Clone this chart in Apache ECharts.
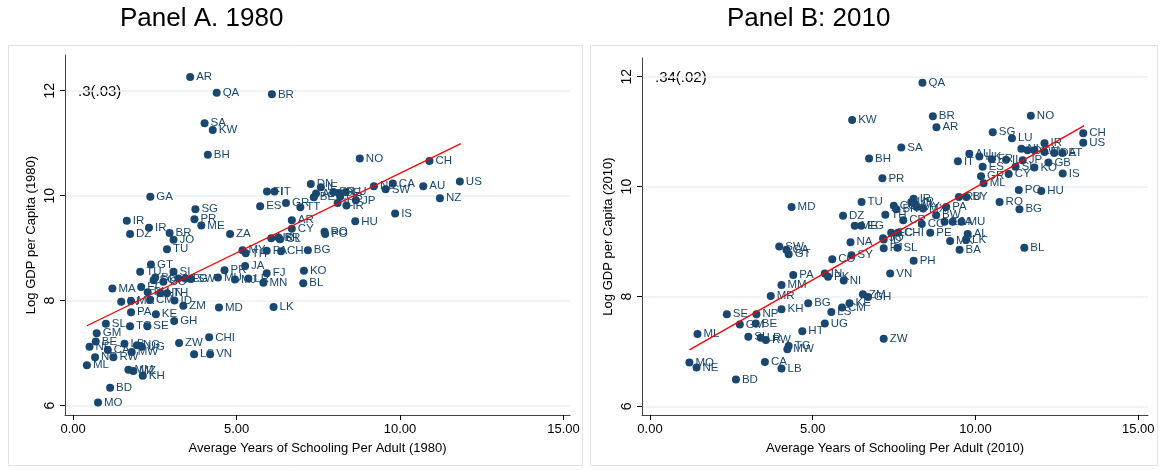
<!DOCTYPE html>
<html><head><meta charset="utf-8">
<script src="https://cdn.jsdelivr.net/npm/echarts@6/dist/echarts.min.js"></script>
<style>html,body{margin:0;padding:0;background:#fff}#c{width:1160px;height:470px}</style>
</head><body><div id="c"></div>
<script>
// Panel A (1980)
const namesA = ["AR","QA","BR","SA","KW","BH","NO","CH","US","AU","CA","SW","NL","NZ","IS","HU","DN","FI","IT","ES","GR","TT","AT","BE","IE","FR","DE","GB","LU","IL","IR","JP","AR","CY","RO","PO","ZA","GA","SG","PR","ME","IR","IR","DZ","BR","JO","TU","GT","TU","SI","BO","SC","CO","NI","EG","SW","MU","PR","MA","EC","PH","HN","TH","IN","MR","CM","ID","ZM","MD","PA","KE","GH","SL","TG","SE","GM","CHI","BE","NE","CA","LB","NG","MW","UG","ZW","NP","RW","LS","VN","ML","MM","MZ","KH","BD","MO","UR","BR","CL","MY","TH","PA","CH","BG","JA","MJ","LR","FJ","MN","KO","BL","LK"];
const schoolA = [3.58,4.39,6.08,4.02,4.27,4.12,8.77,10.90,11.83,10.71,9.78,9.56,9.20,11.22,9.85,8.63,7.27,5.93,6.16,5.72,6.51,6.95,7.43,7.36,7.58,7.96,8.13,8.17,8.34,8.09,8.36,8.65,6.69,6.69,7.69,7.71,4.80,2.36,3.74,3.71,3.92,1.64,2.32,1.74,2.95,3.07,2.87,2.38,2.05,3.07,2.51,2.46,2.76,3.22,3.43,3.60,4.43,4.63,1.20,2.08,2.28,2.66,2.87,1.47,1.77,2.35,3.10,3.37,4.46,1.77,2.53,3.09,1.00,1.74,2.27,0.72,4.16,0.69,0.50,1.06,1.57,1.95,1.79,2.10,3.24,0.67,1.23,3.70,4.19,0.42,1.69,1.84,2.13,1.13,0.76,6.06,6.28,6.33,5.18,5.28,5.92,6.36,7.18,5.26,4.95,5.36,5.92,5.82,7.06,7.04,6.13];
const gdpA = [12.26,11.96,11.93,11.38,11.25,10.78,10.71,10.66,10.27,10.18,10.23,10.12,10.18,9.95,9.66,9.51,10.22,10.08,10.08,9.80,9.86,9.78,10.04,9.97,10.16,10.07,10.05,9.98,10.07,9.86,9.81,9.91,9.53,9.37,9.31,9.27,9.27,9.98,9.74,9.55,9.43,9.52,9.39,9.27,9.29,9.16,8.98,8.69,8.55,8.55,8.44,8.39,8.36,8.42,8.42,8.41,8.44,8.58,8.23,8.26,8.16,8.14,8.14,7.98,7.99,8.01,8.00,7.90,7.87,7.78,7.74,7.61,7.56,7.51,7.51,7.38,7.30,7.22,7.12,7.06,7.18,7.15,7.02,7.12,7.19,6.92,6.92,6.98,6.98,6.77,6.68,6.66,6.57,6.34,6.06,9.19,9.20,9.17,8.96,8.90,8.95,8.94,8.96,8.66,8.40,8.42,8.52,8.34,8.57,8.33,7.88];
const fitA = [[0.42,7.52],[11.86,10.99]];

// Panel B (2010)
const namesB = ["QA","KW","BR","AR","SA","BH","IT","AU","HK","PR","GR","TU","IR","CL","UR","CU","BR","MY","MX","PA","RU","BY","DZ","TH","CR","BW","CO","ZA","JA","MU","ME","EG","PE","EC","CHI","AL","JO","NO","SG","LU","CH","US","IR","NL","DK","SW","FI","DE","AT","JP","GB","KO","IS","ES","FR","IL","CY","SI","ML","PO","HU","RO","BG","BL","MK","LK","BA","MD","SW","GA","GT","PA","MM","MR","KH","BG","SE","NP","GM","BE","ML","SL","LR","RW","HT","TG","MW","MO","NE","CA","LB","BD","NA","ID","CO","SY","PH","FJ","SL","VN","IN","PK","NI","ZM","GH","KE","CM","LS","UG","ZW"];
const schoolB = [8.37,6.21,8.69,8.80,7.72,6.73,9.46,9.81,10.12,7.14,10.17,6.50,8.10,8.13,8.03,7.49,7.57,8.19,8.39,9.10,9.49,9.72,5.93,7.23,7.78,8.79,8.35,9.05,9.30,9.57,6.29,6.49,8.61,7.41,7.62,9.76,7.16,11.70,10.53,11.12,13.31,13.31,12.12,11.41,11.60,11.81,12.12,12.42,12.67,11.45,12.24,11.81,12.68,10.22,10.50,10.94,11.02,11.23,10.25,11.33,12.02,10.74,11.35,11.50,9.22,9.71,9.51,4.35,3.97,4.19,4.26,4.40,4.04,3.71,4.04,4.86,2.36,3.27,2.76,3.25,1.46,3.02,3.40,3.56,4.68,4.26,4.22,1.21,1.43,3.53,4.04,2.64,6.16,7.18,5.60,6.19,8.10,7.18,7.60,7.38,5.37,5.47,5.95,6.54,6.70,6.13,5.90,5.57,5.37,7.18];
const gdpB = [11.89,11.21,11.28,11.08,10.71,10.51,10.46,10.60,10.55,10.15,10.19,9.72,9.78,9.69,9.72,9.65,9.59,9.63,9.60,9.63,9.81,9.81,9.47,9.49,9.39,9.48,9.32,9.36,9.36,9.36,9.29,9.29,9.16,9.16,9.16,9.14,9.06,11.29,10.99,10.88,10.97,10.80,10.79,10.69,10.66,10.66,10.63,10.61,10.61,10.48,10.44,10.35,10.24,10.36,10.50,10.49,10.23,10.36,10.06,9.94,9.92,9.72,9.59,8.89,9.01,9.03,8.85,9.63,8.91,8.85,8.77,8.39,8.21,8.01,7.77,7.88,7.68,7.68,7.49,7.51,7.32,7.27,7.25,7.21,7.37,7.10,7.04,6.80,6.71,6.81,6.69,6.49,8.99,9.04,8.68,8.75,8.65,8.88,8.89,8.42,8.42,8.36,8.29,8.04,7.99,7.88,7.80,7.72,7.51,7.23];
const fitB = [[1.21,7.03],[13.34,11.11]];

const xTicks = [0,5,10,15];
const yTicks = [6,8,10,12];

const FONT = 'Liberation Sans, Arial, Helvetica, sans-serif';
const NAVY = '#1a476f';

function pts(names, xs, ys){ return names.map((n,i)=>({name:n, value:[xs[i], ys[i]]})); }

function xAxis(gi, year, min, max){
  return {type:'value', gridIndex:gi, min:min, max:max,
    axisLine:{show:true, onZero:false, lineStyle:{color:'#444', width:1}},
    axisTick:{show:true, length:5, customValues:xTicks, lineStyle:{color:'#000', width:1}},
    axisLabel:{customValues:xTicks, formatter:v=>v.toFixed(2), fontSize:13, color:'#000', margin:8, fontFamily:FONT},
    splitLine:{show:false},
    name:'Average Years of Schooling Per Adult ('+year+')', nameLocation:'middle', nameGap:27,
    nameTextStyle:{fontSize:13, color:'#000', fontFamily:FONT}};
}
function yAxis(gi, year, min, max){
  return {type:'value', gridIndex:gi, min:min, max:max,
    axisLine:{show:true, onZero:false, lineStyle:{color:'#444', width:1}},
    axisTick:{show:true, length:5, customValues:yTicks, lineStyle:{color:'#000', width:1}},
    axisLabel:{customValues:yTicks, rotate:90, fontSize:14, color:'#000', margin:8, fontFamily:FONT},
    splitLine:{show:true, lineStyle:{color:'#eaf2f3', width:1.5}},
    name:'Log GDP per Capita ('+year+')', nameLocation:'middle', nameGap:27,
    nameTextStyle:{fontSize:13, color:'#000', fontFamily:FONT}};
}
function scatter(i, data){
  return {type:'scatter', xAxisIndex:i, yAxisIndex:i, data:data, symbol:'circle', symbolSize:8,
    itemStyle:{color:NAVY, opacity:1}, animation:false,
    label:{show:true, position:'right', distance:2, formatter:p=>p.name, fontSize:11.5, color:NAVY, fontFamily:FONT}};
}
function fit(i, data){
  return {type:'line', xAxisIndex:i, yAxisIndex:i, data:data, symbol:'none', silent:true, animation:false,
    lineStyle:{color:'#ff0000', width:1.3}, z:5};
}

const chart = echarts.init(document.getElementById('c'), null, {renderer:'canvas'});
chart.setOption({
  backgroundColor:'#fff',
  animation:false,
  textStyle:{fontFamily:FONT},
  title:[
    {text:'Panel A. 1980', left:120, top:6, padding:0, textStyle:{fontSize:26, fontWeight:'normal', color:'#000', fontFamily:FONT}},
    {text:'Panel B: 2010', left:727, top:6, padding:0, textStyle:{fontSize:26, fontWeight:'normal', color:'#000', fontFamily:FONT}}
  ],
  graphic:[
    {type:'rect', shape:{x:8.5, y:45.5, width:574, height:420}, style:{fill:'none', stroke:'#e3e3e3', lineWidth:1}, silent:true, z:-1},
    {type:'rect', shape:{x:590.5, y:45.5, width:567, height:420}, style:{fill:'none', stroke:'#e3e3e3', lineWidth:1}, silent:true, z:-1},
    {type:'text', left:78, top:84, style:{text:'.3(.03)', fontSize:15, fill:'#000', fontFamily:FONT}},
    {type:'text', left:655, top:70, style:{text:'.34(.02)', fontSize:15, fill:'#000', fontFamily:FONT}}
  ],
  grid:[
    {left:65, top:55, width:505, height:360},
    {left:642, top:58, width:506, height:357}
  ],
  xAxis:[xAxis(0,1980,-0.25,15.2), xAxis(1,2010,-0.246,15.3)],
  yAxis:[yAxis(0,1980,5.82,12.68), yAxis(1,2010,5.845,12.34)],
  series:[
    scatter(0, pts(namesA, schoolA, gdpA)), fit(0, fitA),
    scatter(1, pts(namesB, schoolB, gdpB)), fit(1, fitB)
  ]
});
</script></body></html>
